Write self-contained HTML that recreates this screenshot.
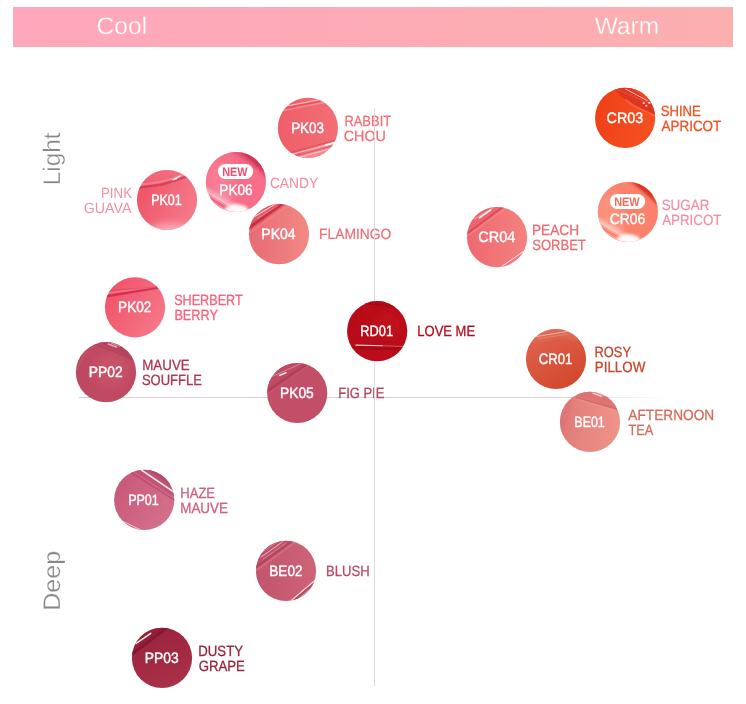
<!DOCTYPE html>
<html lang="en"><head><meta charset="utf-8"><title>Color chart</title>
<style>html,body{margin:0;padding:0;background:#fff}body{width:746px;height:704px;overflow:hidden}svg{display:block}text{font-family:"Liberation Sans",sans-serif;text-rendering:geometricPrecision}</style>
</head><body>
<svg width="746" height="704" viewBox="0 0 746 704">
<defs>
<linearGradient id="ban" x1="0" y1="0" x2="1" y2="0"><stop offset="0" stop-color="#FFA7BC"/><stop offset="1" stop-color="#FBAFAF"/></linearGradient>
<linearGradient id="hl" x1="0" y1="0" x2="1" y2="0"><stop offset="0" stop-color="#DCCFD4"/><stop offset="0.8" stop-color="#DCCFD4"/><stop offset="1" stop-color="#DCCFD4" stop-opacity="0"/></linearGradient>
<filter id="b1" filterUnits="userSpaceOnUse" x="0" y="0" width="746" height="704"><feGaussianBlur stdDeviation="0.6"/></filter>
<filter id="b2" filterUnits="userSpaceOnUse" x="0" y="0" width="746" height="704"><feGaussianBlur stdDeviation="1.5"/></filter>
<filter id="b3" filterUnits="userSpaceOnUse" x="0" y="0" width="746" height="704"><feGaussianBlur stdDeviation="4"/></filter>
<linearGradient id="gPK03" x1="0" y1="0.5" x2="1" y2="0.5"><stop offset="0" stop-color="#EE5E68"/><stop offset="1" stop-color="#F36F75"/></linearGradient>
<clipPath id="kPK03"><circle cx="307.9" cy="127.9" r="30.1"/></clipPath>
<linearGradient id="gPK01" x1="0" y1="0.3" x2="1" y2="0.7"><stop offset="0" stop-color="#EE5266"/><stop offset="1" stop-color="#F57C8C"/></linearGradient>
<clipPath id="kPK01"><circle cx="167" cy="200" r="30.1"/></clipPath>
<clipPath id="kPK06"><circle cx="235.9" cy="182" r="30.1"/></clipPath>
<linearGradient id="gPK04" x1="0" y1="0.5" x2="1" y2="0.5"><stop offset="0" stop-color="#E86A73"/><stop offset="1" stop-color="#F28A85"/></linearGradient>
<clipPath id="kPK04"><circle cx="279" cy="234.2" r="30.1"/></clipPath>
<linearGradient id="gPK02" x1="0" y1="0.2" x2="1" y2="0.8"><stop offset="0" stop-color="#F05068"/><stop offset="1" stop-color="#F67A8A"/></linearGradient>
<clipPath id="kPK02"><circle cx="135" cy="307.3" r="30.1"/></clipPath>
<clipPath id="kPP02"><circle cx="106" cy="372.2" r="30.1"/></clipPath>
<clipPath id="kPK05"><circle cx="297.2" cy="393" r="30.1"/></clipPath>
<clipPath id="kRD01"><circle cx="377.2" cy="331.2" r="30.1"/></clipPath>
<linearGradient id="gPP01" x1="0" y1="0.2" x2="1" y2="0.8"><stop offset="0" stop-color="#C85878"/><stop offset="1" stop-color="#D5728C"/></linearGradient>
<clipPath id="kPP01"><circle cx="144.2" cy="499.9" r="30.1"/></clipPath>
<linearGradient id="gBE02" x1="0" y1="0.5" x2="1" y2="0.5"><stop offset="0" stop-color="#C2546C"/><stop offset="1" stop-color="#CE6478"/></linearGradient>
<clipPath id="kBE02"><circle cx="286" cy="570.9" r="30.1"/></clipPath>
<linearGradient id="gPP03" x1="0.3" y1="0" x2="0.7" y2="1"><stop offset="0" stop-color="#9A223C"/><stop offset="1" stop-color="#A93149"/></linearGradient>
<clipPath id="kPP03"><circle cx="162" cy="657.9" r="30.1"/></clipPath>
<linearGradient id="gCR03" x1="0" y1="0.4" x2="1" y2="0.6"><stop offset="0" stop-color="#EF4019"/><stop offset="1" stop-color="#F65122"/></linearGradient>
<clipPath id="kCR03"><circle cx="625.1" cy="117.9" r="30.1"/></clipPath>
<clipPath id="kCR06"><circle cx="627.9" cy="212" r="30.1"/></clipPath>
<linearGradient id="gCR04" x1="0" y1="0.5" x2="1" y2="0.5"><stop offset="0" stop-color="#EE6870"/><stop offset="1" stop-color="#F4827F"/></linearGradient>
<clipPath id="kCR04"><circle cx="497.05" cy="237.15" r="30.1"/></clipPath>
<linearGradient id="gCR01" x1="0.2" y1="0" x2="0.8" y2="1"><stop offset="0" stop-color="#DF6450"/><stop offset="1" stop-color="#D2462A"/></linearGradient>
<clipPath id="kCR01"><circle cx="556" cy="359" r="30.1"/></clipPath>
<linearGradient id="gBE01" x1="0" y1="0.45" x2="1" y2="0.55"><stop offset="0" stop-color="#E07A78"/><stop offset="1" stop-color="#F0948A"/></linearGradient>
<clipPath id="kBE01"><circle cx="590" cy="421.9" r="30.1"/></clipPath>
</defs>
<rect width="746" height="704" fill="#fff"/>
<rect x="13" y="7" width="720" height="40" fill="url(#ban)"/>
<text id="cool" x="96.57" y="33.8" font-size="24" fill="#fff" textLength="50.67" lengthAdjust="spacingAndGlyphs" stroke="#FFA8BA" stroke-width="0.3">Cool</text>
<text id="warm" x="594.65" y="33.8" font-size="24" fill="#fff" textLength="64.4" lengthAdjust="spacingAndGlyphs" stroke="#FBAEB0" stroke-width="0.3">Warm</text>
<g transform="translate(60.2 0) rotate(-90)">
<text id="light" x="-185.17" y="0" font-size="24" fill="#878787" textLength="52.62" lengthAdjust="spacingAndGlyphs" stroke="#fff" stroke-width="0.3">Light</text>
<text id="deep" x="-610.86" y="0" font-size="24" fill="#878787" textLength="60.04" lengthAdjust="spacingAndGlyphs" stroke="#fff" stroke-width="0.3">Deep</text>
</g>
<rect x="79" y="397" width="591" height="1" fill="url(#hl)"/>
<text id="l0" x="344.42" y="126" font-size="14.8" fill="#F86C72" textLength="46.72" lengthAdjust="spacingAndGlyphs" stroke="#F86C72" stroke-width="0.25">RABBIT</text>
<text id="l1" x="343.76" y="141" font-size="14.8" fill="#F86C72" textLength="42.18" lengthAdjust="spacingAndGlyphs" stroke="#F86C72" stroke-width="0.25">CHOU</text>
<text id="l2" x="101.04" y="197.9" font-size="14.8" fill="#F590A2" textLength="30.95" lengthAdjust="spacingAndGlyphs">PINK</text>
<text id="l3" x="83.76" y="212.9" font-size="14.8" fill="#F590A2" textLength="47.69" lengthAdjust="spacingAndGlyphs">GUAVA</text>
<text id="l4" x="269.91" y="188" font-size="14.8" fill="#F68EA2" textLength="48.19" lengthAdjust="spacingAndGlyphs" stroke="#F68EA2" stroke-width="0.1">CANDY</text>
<text id="l5" x="319.11" y="239" font-size="14.8" fill="#EF6C73" textLength="72.09" lengthAdjust="spacingAndGlyphs" stroke="#EF6C73" stroke-width="0.2">FLAMINGO</text>
<text id="l6" x="174.16" y="305" font-size="14.8" fill="#FA607A" textLength="68.54" lengthAdjust="spacingAndGlyphs" stroke="#FA607A" stroke-width="0.3">SHERBERT</text>
<text id="l7" x="174.41" y="319.8" font-size="14.8" fill="#FA607A" textLength="43.51" lengthAdjust="spacingAndGlyphs" stroke="#FA607A" stroke-width="0.3">BERRY</text>
<text id="l8" x="142.19" y="369.9" font-size="14.8" fill="#AE3652" textLength="47.59" lengthAdjust="spacingAndGlyphs" stroke="#AE3652" stroke-width="0.3">MAUVE</text>
<text id="l9" x="141.95" y="384.9" font-size="14.8" fill="#AE3652" textLength="59.97" lengthAdjust="spacingAndGlyphs" stroke="#AE3652" stroke-width="0.3">SOUFFLE</text>
<text id="l10" x="417.36" y="335.8" font-size="14.8" fill="#B20A1C" textLength="57.73" lengthAdjust="spacingAndGlyphs" stroke="#B20A1C" stroke-width="0.3">LOVE ME</text>
<text id="l11" x="338.22" y="397.7" font-size="14.8" fill="#B6465E" textLength="46.16" lengthAdjust="spacingAndGlyphs" stroke="#B6465E" stroke-width="0.3">FIG PIE</text>
<text id="l12" x="180.24" y="497.8" font-size="14.8" fill="#D0607E" textLength="34.85" lengthAdjust="spacingAndGlyphs" stroke="#D0607E" stroke-width="0.3">HAZE</text>
<text id="l13" x="180.21" y="512.8" font-size="14.8" fill="#D0607E" textLength="47.7" lengthAdjust="spacingAndGlyphs" stroke="#D0607E" stroke-width="0.3">MAUVE</text>
<text id="l14" x="326.07" y="575.8" font-size="14.8" fill="#BA4A64" textLength="43.68" lengthAdjust="spacingAndGlyphs" stroke="#BA4A64" stroke-width="0.3">BLUSH</text>
<text id="l15" x="198.22" y="655.8" font-size="14.8" fill="#98243C" textLength="44.84" lengthAdjust="spacingAndGlyphs" stroke="#98243C" stroke-width="0.3">DUSTY</text>
<text id="l16" x="198.71" y="670.8" font-size="14.8" fill="#98243C" textLength="46.23" lengthAdjust="spacingAndGlyphs" stroke="#98243C" stroke-width="0.3">GRAPE</text>
<text id="l17" x="660.76" y="116.1" font-size="14.8" fill="#F4501F" textLength="40.04" lengthAdjust="spacingAndGlyphs" stroke="#F4501F" stroke-width="0.3">SHINE</text>
<text id="l18" x="661.5" y="130.9" font-size="14.8" fill="#F4501F" textLength="59.8" lengthAdjust="spacingAndGlyphs" stroke="#F4501F" stroke-width="0.3">APRICOT</text>
<text id="l19" x="661.65" y="210.1" font-size="14.8" fill="#F48FA2" textLength="47.79" lengthAdjust="spacingAndGlyphs" stroke="#F48FA2" stroke-width="0.2">SUGAR</text>
<text id="l20" x="662.15" y="224.7" font-size="14.8" fill="#F48FA2" textLength="59.34" lengthAdjust="spacingAndGlyphs" stroke="#F48FA2" stroke-width="0.2">APRICOT</text>
<text id="l21" x="531.98" y="235" font-size="14.8" fill="#F06A72" textLength="47.06" lengthAdjust="spacingAndGlyphs" stroke="#F06A72" stroke-width="0.3">PEACH</text>
<text id="l22" x="532.26" y="249.6" font-size="14.8" fill="#F06A72" textLength="53.55" lengthAdjust="spacingAndGlyphs" stroke="#F06A72" stroke-width="0.3">SORBET</text>
<text id="l23" x="594.59" y="356.6" font-size="14.8" fill="#C8452F" textLength="36.43" lengthAdjust="spacingAndGlyphs" stroke="#C8452F" stroke-width="0.3">ROSY</text>
<text id="l24" x="594.72" y="371.8" font-size="14.8" fill="#C8452F" textLength="50.69" lengthAdjust="spacingAndGlyphs" stroke="#C8452F" stroke-width="0.3">PILLOW</text>
<text id="l25" x="628.35" y="419.8" font-size="14.8" fill="#D66C5E" textLength="85.9" lengthAdjust="spacingAndGlyphs" stroke="#D66C5E" stroke-width="0.3">AFTERNOON</text>
<text id="l26" x="628.41" y="434.9" font-size="14.8" fill="#D66C5E" textLength="24.83" lengthAdjust="spacingAndGlyphs" stroke="#D66C5E" stroke-width="0.3">TEA</text>
<rect x="374" y="108" width="1" height="578" fill="#E0D9DD"/>
<g clip-path="url(#kPK03)">
<circle cx="307.9" cy="127.9" r="31.1" fill="url(#gPK03)"/>
<path d="M282.87 160.78L345.07 137.18L351.5 171.5L280.72 171.5Z" fill="#F8A4AA" opacity="0.55" filter="url(#b1)"/>
<path d="M276.43 108.02L325.76 98.36" stroke="#fff" stroke-width="1.0" stroke-linecap="round" fill="none" opacity="0.65" filter="url(#b1)"/>
<path d="M276.43 109.95L330.05 99.44" stroke="#D43C4C" stroke-width="1.0" stroke-linecap="round" fill="none" opacity="0.5" filter="url(#b1)"/>
<path d="M276.43 111.88L334.34 100.51" stroke="#fff" stroke-width="1.3" stroke-linecap="round" fill="none" opacity="0.25" filter="url(#b1)"/>
<path d="M285.01 153.91L345.07 137.61" stroke="#D43C4C" stroke-width="1.1" stroke-linecap="round" fill="none" opacity="0.55" filter="url(#b1)"/>
<path d="M287.16 155.63L345.07 139.87" stroke="#fff" stroke-width="1.5" stroke-linecap="round" fill="none" opacity="0.5" filter="url(#b1)"/>
<path d="M325.76 145.12L336.49 142.23" stroke="#fff" stroke-width="1.8" stroke-linecap="round" fill="none" opacity="0.9" filter="url(#b1)"/>
<path d="M289.3 157.56L345.07 142.44" stroke="#D43C4C" stroke-width="1.2" stroke-linecap="round" fill="none" opacity="0.6" filter="url(#b1)"/>
<path d="M291.45 159.38L345.07 144.8" stroke="#fff" stroke-width="1.1" stroke-linecap="round" fill="none" opacity="0.45" filter="url(#b1)"/>
</g>
<text id="cPK03" x="291.16" y="132.9" font-size="15.0" fill="#fff" textLength="32.8" lengthAdjust="spacingAndGlyphs" stroke="#fff" stroke-width="0.4">PK03</text>
<g clip-path="url(#kPK01)">
<circle cx="167" cy="200" r="31.1" fill="url(#gPK01)"/>
<ellipse cx="169.97" cy="232.92" rx="22" ry="9" fill="#FCC0C8" opacity="0.8" filter="url(#b3)"/>
<path d="M132.43 181.45L158.17 180.38L177.47 175.01L186.05 169.65L158.17 164.29L132.43 170.72Z" fill="#F47C8C" opacity="0.4" filter="url(#b2)"/>
<path d="M134.58 188.1L160.85 184.77L175.12 180.7L194.63 173.73" stroke="#D03050" stroke-width="2.4" stroke-linecap="round" stroke-linejoin="round" fill="none" opacity="0.65" filter="url(#b1)"/>
<path d="M135.65 185.31L159.24 182.2L173.18 178.45L190.34 172.01" stroke="#F9A8B2" stroke-width="2.2" stroke-linecap="round" stroke-linejoin="round" fill="none" opacity="0.45" filter="url(#b1)"/>
<path d="M172.76 179.95L180.16 176.09" stroke="#fff" stroke-width="1.2" stroke-linecap="round" fill="none" opacity="0.9" filter="url(#b1)"/>
<ellipse cx="175.54" cy="178.87" rx="1.8" ry="1.0" fill="#fff" opacity="0.8" filter="url(#b1)"/>
<path d="M183.91 173.94L201.07 184.66L201.07 166.43Z" fill="#E03A54" opacity="0.5" filter="url(#b1)"/>
</g>
<text id="cPK01" x="151.16" y="204.9" font-size="15.0" fill="#fff" textLength="30.62" lengthAdjust="spacingAndGlyphs" stroke="#fff" stroke-width="0.4">PK01</text>
<g clip-path="url(#kPK06)">
<circle cx="235.9" cy="182" r="31.1" fill="#F86E88"/>
<ellipse cx="220.66" cy="177.17" rx="14" ry="16" fill="#FC8CA0" opacity="0.5" filter="url(#b3)"/>
<ellipse cx="219.59" cy="198.62" rx="12" ry="9" fill="#FDB4C2" opacity="0.45" filter="url(#b3)"/>
<path d="M226.03 149.29L245.33 161.09L258.2 170.74L268.92 181.46L277.5 155.72L249.62 140.71Z" fill="#E25676" opacity="0.95" filter="url(#b2)"/>
<path d="M242.11 150.36L272.14 176.1" stroke="#C62A4A" stroke-width="4.2" stroke-linecap="round" fill="none" opacity="0.85" filter="url(#b2)"/>
<path d="M200.29 186.29L243.18 212.02" stroke="#FCB6C2" stroke-width="4.5" stroke-linecap="round" fill="none" opacity="0.75" filter="url(#b2)"/>
<path d="M200.29 191.11L241.58 215.78L228.17 226.5L196 213.63Z" fill="#EC5C7A" opacity="0.8" filter="url(#b1)"/>
<ellipse cx="236.21" cy="210.2" rx="12" ry="6" fill="#fff" opacity="0.95" filter="url(#b2)"/>
<path d="M202.43 189.18L242.11 212.99" stroke="#fff" stroke-width="1.2" stroke-linecap="round" fill="none" opacity="0.35" filter="url(#b1)"/>
<path d="M205.65 197.55L231.39 213.63" stroke="#FBB4C0" stroke-width="1.4" stroke-linecap="round" fill="none" opacity="0.7" filter="url(#b1)"/>
</g>
<rect x="217.9" y="164" width="35.3" height="15" rx="7.5" fill="#fff"/>
<text id="nPK06" x="222.15" y="175.9" font-size="12.2" fill="#F54C6E" textLength="25.35" lengthAdjust="spacingAndGlyphs" font-weight="bold">NEW</text>
<text id="cPK06" x="219.32" y="194.9" font-size="15.0" fill="#fff" textLength="33.27" lengthAdjust="spacingAndGlyphs" stroke="#fff" stroke-width="0.4">PK06</text>
<g clip-path="url(#kPK04)">
<circle cx="279" cy="234.2" r="31.1" fill="url(#gPK04)"/>
<path d="M245.43 232.39L286.18 201.29L245.43 201.29Z" fill="#E2566A" opacity="0.6" filter="url(#b1)"/>
<path d="M247.58 234L290.47 203.43" stroke="#F59696" stroke-width="2.2" stroke-linecap="round" fill="none" opacity="0.5" filter="url(#b1)"/>
<path d="M245.43 230.46L287.26 200.43" stroke="#CC2E44" stroke-width="5.5" stroke-linecap="round" fill="none" opacity="0.4" filter="url(#b2)"/>
<path d="M245.43 230.46L287.26 200.43" stroke="#C8283C" stroke-width="2.6" stroke-linecap="round" fill="none" opacity="0.8" filter="url(#b1)"/>
<path d="M255.09 216.3L275.46 204.08" stroke="#fff" stroke-width="1.0" stroke-linecap="round" fill="none" opacity="0.8" filter="url(#b1)"/>
<path d="M257.23 218.45L277.61 205.79" stroke="#fff" stroke-width="0.8" stroke-linecap="round" fill="none" opacity="0.4" filter="url(#b1)"/>
</g>
<text id="cPK04" x="261.32" y="238.8" font-size="15.0" fill="#fff" textLength="34.38" lengthAdjust="spacingAndGlyphs" stroke="#fff" stroke-width="0.4">PK04</text>
<g clip-path="url(#kPK02)">
<circle cx="135" cy="307.3" r="31.1" fill="url(#gPK02)"/>
<path d="M101.43 297.13L165.78 286.3" stroke="#CC2848" stroke-width="2.4" stroke-linecap="round" fill="none" opacity="0.8" filter="url(#b1)"/>
<path d="M101.43 294.13L165.78 285.01" stroke="#F68494" stroke-width="2.0" stroke-linecap="round" fill="none" opacity="0.55" filter="url(#b1)"/>
<path d="M105.72 291.02L165.78 286.09" stroke="#D8385A" stroke-width="1.0" stroke-linecap="round" fill="none" opacity="0.5" filter="url(#b1)"/>
</g>
<text id="cPK02" x="118.1" y="311.8" font-size="15.0" fill="#fff" textLength="33.33" lengthAdjust="spacingAndGlyphs" stroke="#fff" stroke-width="0.4">PK02</text>
<g clip-path="url(#kPP02)">
<circle cx="106" cy="372.2" r="31.1" fill="#C04A62"/>
<ellipse cx="111.04" cy="370.39" rx="18" ry="18" fill="#CC586C" opacity="0.6" filter="url(#b3)"/>
<ellipse cx="78.87" cy="375.75" rx="8" ry="16" fill="#B84660" opacity="0.5" filter="url(#b3)"/>
<path d="M91.74 339.29L138.92 361.81L141.07 335Z" fill="#B04260" opacity="0.75" filter="url(#b1)"/>
<path d="M92.81 343.04L138.92 361.81" stroke="#A03852" stroke-width="1.2" stroke-linecap="round" fill="none" opacity="0.5" filter="url(#b1)"/>
<path d="M108.36 344.12L116.4 347.01" stroke="#fff" stroke-width="1.6" stroke-linecap="round" fill="none" opacity="0.55" filter="url(#b1)"/>
<path d="M111.04 343.04L119.62 346.26" stroke="#fff" stroke-width="1.0" stroke-linecap="round" fill="none" opacity="0.45" filter="url(#b1)"/>
<path d="M77.26 369.32L86.38 351.09" stroke="#D4687C" stroke-width="1.2" stroke-linecap="round" fill="none" opacity="0.4" filter="url(#b1)"/>
</g>
<text id="cPP02" x="88.82" y="376.8" font-size="15.0" fill="#fff" textLength="33.83" lengthAdjust="spacingAndGlyphs" stroke="#fff" stroke-width="0.4">PP02</text>
<g clip-path="url(#kPK05)">
<circle cx="297.2" cy="393" r="31.1" fill="#C24E67"/>
<path d="M263.43 393.61L308.47 361.43L263.43 359.29Z" fill="#BC4862" opacity="0.6" filter="url(#b1)"/>
<path d="M265.58 392.53L308.47 363.04" stroke="#A83850" stroke-width="2.6" stroke-linecap="round" fill="none" opacity="0.65" filter="url(#b1)"/>
<path d="M267.72 393.82L310.62 364.22" stroke="#D06478" stroke-width="1.6" stroke-linecap="round" fill="none" opacity="0.4" filter="url(#b1)"/>
<path d="M270.94 376.98L299.9 364.12" stroke="#fff" stroke-width="0.8" stroke-linecap="round" fill="none" opacity="0.45" filter="url(#b1)"/>
<path d="M279.52 375.38L285.95 372.69" stroke="#fff" stroke-width="1.5" stroke-linecap="round" fill="none" opacity="0.9" filter="url(#b1)"/>
</g>
<text id="cPK05" x="279.96" y="397.9" font-size="15.0" fill="#fff" textLength="33.83" lengthAdjust="spacingAndGlyphs" stroke="#fff" stroke-width="0.4">PK05</text>
<g clip-path="url(#kRD01)">
<circle cx="377.2" cy="331.2" r="31.1" fill="#BA0C1A"/>
<ellipse cx="388.47" cy="325.17" rx="14" ry="14" fill="#C5121E" opacity="0.6" filter="url(#b3)"/>
<ellipse cx="353.09" cy="325.17" rx="8" ry="16" fill="#B20C18" opacity="0.5" filter="url(#b3)"/>
<path d="M347.72 299.43L412.07 299.43L412.07 309.09L363.81 303.72Z" fill="#A80E1A" opacity="0.7" filter="url(#b1)"/>
<path d="M362.74 303.29L409.92 308.23" stroke="#8E0A14" stroke-width="1.0" stroke-linecap="round" fill="none" opacity="0.6" filter="url(#b1)"/>
<path d="M353.09 347.69L412.07 349.19" stroke="#980A14" stroke-width="2.8" stroke-linecap="round" fill="none" opacity="0.7" filter="url(#b1)"/>
<path d="M355.87 345.12L382.04 345.76" stroke="#fff" stroke-width="1.2" stroke-linecap="round" fill="none" opacity="0.8" filter="url(#b1)"/>
<path d="M382.04 345.76L403.49 346.4" stroke="#fff" stroke-width="0.8" stroke-linecap="round" fill="none" opacity="0.4" filter="url(#b1)"/>
</g>
<text id="cRD01" x="360.32" y="335.9" font-size="15.0" fill="#fff" textLength="32.77" lengthAdjust="spacingAndGlyphs" stroke="#fff" stroke-width="0.4">RD01</text>
<g clip-path="url(#kPP01)">
<circle cx="144.2" cy="499.9" r="31.1" fill="url(#gPP01)"/>
<path d="M128.66 467.36L179.07 500.61L181.21 462Z" fill="#BC4E70" opacity="0.7" filter="url(#b1)"/>
<path d="M129.74 471.65L176.92 501.68" stroke="#B04266" stroke-width="1.6" stroke-linecap="round" fill="none" opacity="0.6" filter="url(#b1)"/>
<path d="M141.53 470.04L176.92 494.17" stroke="#fff" stroke-width="1.5" stroke-linecap="round" fill="none" opacity="0.9" filter="url(#b1)"/>
<path d="M145.82 468.43L179.07 491.49L181.21 462Z" fill="#B04868" opacity="0.7" filter="url(#b1)"/>
<path d="M123.3 521.52L140.46 529.77" stroke="#fff" stroke-width="0.9" stroke-linecap="round" fill="none" opacity="0.7" filter="url(#b1)"/>
</g>
<text id="cPP01" x="128.16" y="504.9" font-size="15.0" fill="#fff" textLength="30.62" lengthAdjust="spacingAndGlyphs" stroke="#fff" stroke-width="0.4">PP01</text>
<g clip-path="url(#kBE02)">
<circle cx="286" cy="570.9" r="31.1" fill="url(#gBE02)"/>
<path d="M252.43 569.46L295.33 537.29L252.43 537.29Z" fill="#BE5068" opacity="0.6" filter="url(#b1)"/>
<path d="M256.72 570L296.4 541.04" stroke="#DC8090" stroke-width="2.2" stroke-linecap="round" fill="none" opacity="0.45" filter="url(#b1)"/>
<path d="M254.58 568.39L294.26 539.65" stroke="#A84058" stroke-width="2.4" stroke-linecap="round" fill="none" opacity="0.7" filter="url(#b1)"/>
<path d="M261.01 557.13L282.46 541.79" stroke="#fff" stroke-width="1.0" stroke-linecap="round" fill="none" opacity="0.6" filter="url(#b1)"/>
<path d="M263.16 559.27L285.68 543.19" stroke="#fff" stroke-width="0.8" stroke-linecap="round" fill="none" opacity="0.35" filter="url(#b1)"/>
<path d="M258.87 554.45L279.24 540.51" stroke="#fff" stroke-width="0.8" stroke-linecap="round" fill="none" opacity="0.3" filter="url(#b1)"/>
<path d="M288.9 603.78L321.07 575.9L321.07 608.07Z" fill="#B84C64" opacity="0.7" filter="url(#b1)"/>
<path d="M290.5 601.1L318.92 576.97" stroke="#fff" stroke-width="1.2" stroke-linecap="round" fill="none" opacity="0.8" filter="url(#b1)"/>
<path d="M294.79 602.17L319.99 580.72" stroke="#fff" stroke-width="1.0" stroke-linecap="round" fill="none" opacity="0.6" filter="url(#b1)"/>
<path d="M292.65 601.63L319.46 578.9" stroke="#A03850" stroke-width="1.0" stroke-linecap="round" fill="none" opacity="0.5" filter="url(#b1)"/>
</g>
<text id="cBE02" x="269.32" y="575.9" font-size="15.0" fill="#fff" textLength="33.23" lengthAdjust="spacingAndGlyphs" stroke="#fff" stroke-width="0.4">BE02</text>
<g clip-path="url(#kPP03)">
<circle cx="162" cy="657.9" r="31.1" fill="url(#gPP03)"/>
<path d="M128.43 657.53L171.33 624.29L128.43 624.29Z" fill="#921E36" opacity="0.6" filter="url(#b1)"/>
<path d="M129.51 655.92L170.26 625.36" stroke="#7C1830" stroke-width="2.6" stroke-linecap="round" fill="none" opacity="0.8" filter="url(#b1)"/>
<path d="M136.16 643.38L150.74 633.3" stroke="#fff" stroke-width="1.6" stroke-linecap="round" fill="none" opacity="0.9" filter="url(#b1)"/>
</g>
<text id="cPP03" x="144.82" y="662.9" font-size="15.0" fill="#fff" textLength="33.83" lengthAdjust="spacingAndGlyphs" stroke="#fff" stroke-width="0.4">PP03</text>
<g clip-path="url(#kCR03)">
<circle cx="625.1" cy="117.9" r="31.1" fill="url(#gCR03)"/>
<path d="M 610.74 85.36 Q 623.61 101.45 640.76 108.74 T 661.14 119.46 L 661.14 83.22 Z" fill="#DC3420" opacity="0.9" filter="url(#b1)"/>
<path d="M 625.75 99.84 Q 633.26 106.27 642.91 110.03 T 660.07 119.14" fill="none" stroke="#F87850" stroke-width="1.6" stroke-linecap="round" opacity="0.6" filter="url(#b1)"/>
<path d="M616.1 89.12L649.34 103.06" stroke="#F0603C" stroke-width="1.6" stroke-linecap="round" fill="none" opacity="0.5" filter="url(#b1)"/>
<path d="M627.9 86.43L649.34 101.45L660.07 110.03L660.07 84.29Z" fill="#F04E26" opacity="0.8" filter="url(#b1)"/>
<path d="M625.75 89.12L647.2 100.59" stroke="#fff" stroke-width="1.0" stroke-linecap="round" fill="none" opacity="0.7" filter="url(#b1)"/>
<ellipse cx="643.77" cy="103.06" rx="1.3" ry="0.9" fill="#fff" opacity="0.8" filter="url(#b1)"/>
<ellipse cx="646.34" cy="105.74" rx="1.1" ry="0.9" fill="#fff" opacity="0.7" filter="url(#b1)"/>
<ellipse cx="649.34" cy="102.73" rx="1.5" ry="0.9" fill="#fff" opacity="0.75" filter="url(#b1)"/>
</g>
<text id="cCR03" x="606.56" y="123.2" font-size="15.0" fill="#fff" textLength="36.62" lengthAdjust="spacingAndGlyphs" stroke="#fff" stroke-width="0.4">CR03</text>
<g clip-path="url(#kCR06)">
<circle cx="627.9" cy="212" r="31.1" fill="#FA826C"/>
<ellipse cx="609.45" cy="207.17" rx="14" ry="16" fill="#FC9E8A" opacity="0.55" filter="url(#b3)"/>
<ellipse cx="611.59" cy="228.62" rx="12" ry="9" fill="#FDBCAE" opacity="0.5" filter="url(#b3)"/>
<path d="M623.39 178.22L641.62 190.01L652.34 199.66L661.99 211.46L669.5 185.72L641.62 170.71Z" fill="#EE6048" opacity="0.95" filter="url(#b2)"/>
<path d="M635.18 180.9L663.6 205.56" stroke="#D42A1C" stroke-width="5.0" stroke-linecap="round" fill="none" opacity="0.9" filter="url(#b2)"/>
<path d="M652.88 194.84L659.64 206.1" stroke="#FBB0A0" stroke-width="1.8" stroke-linecap="round" fill="none" opacity="0.65" filter="url(#b1)"/>
<path d="M592.29 216.29L635.18 242.02" stroke="#FDC8BE" stroke-width="4.5" stroke-linecap="round" fill="none" opacity="0.75" filter="url(#b2)"/>
<path d="M592.29 221.11L633.58 245.78L620.17 256.5L588 243.63Z" fill="#F67E68" opacity="0.75" filter="url(#b1)"/>
<ellipse cx="628.21" cy="240.2" rx="12" ry="6" fill="#fff" opacity="0.95" filter="url(#b2)"/>
<path d="M594.43 219.18L634.11 242.99" stroke="#fff" stroke-width="1.2" stroke-linecap="round" fill="none" opacity="0.35" filter="url(#b1)"/>
<path d="M597.65 227.55L623.39 243.63" stroke="#FCC4BA" stroke-width="1.4" stroke-linecap="round" fill="none" opacity="0.7" filter="url(#b1)"/>
</g>
<rect x="609.9" y="194" width="35.3" height="15" rx="7.5" fill="#fff"/>
<text id="nCR06" x="614.16" y="206" font-size="12.2" fill="#F56A58" textLength="25.42" lengthAdjust="spacingAndGlyphs" font-weight="bold">NEW</text>
<text id="cCR06" x="609.76" y="224.3" font-size="15.0" fill="#fff" textLength="35.62" lengthAdjust="spacingAndGlyphs" stroke="#fff" stroke-width="0.4">CR06</text>
<g clip-path="url(#kCR04)">
<circle cx="497.05" cy="237.15" r="31.1" fill="url(#gCR04)"/>
<path d="M463.43 236.46L506.33 204.29L463.43 204.29Z" fill="#EA6070" opacity="0.6" filter="url(#b1)"/>
<path d="M464.51 235.39L505.26 205.36" stroke="#D84058" stroke-width="2.2" stroke-linecap="round" fill="none" opacity="0.7" filter="url(#b1)"/>
<path d="M466.65 236.46L507.4 206.65" stroke="#F89898" stroke-width="1.6" stroke-linecap="round" fill="none" opacity="0.45" filter="url(#b1)"/>
<path d="M479.31 217.91L490.46 210.08" stroke="#fff" stroke-width="1.6" stroke-linecap="round" fill="none" opacity="0.9" filter="url(#b1)"/>
<path d="M474.16 219.3L493.46 207.51" stroke="#fff" stroke-width="0.8" stroke-linecap="round" fill="none" opacity="0.5" filter="url(#b1)"/>
<path d="M500.97 267.02L525.63 249.87" stroke="#fff" stroke-width="1.0" stroke-linecap="round" fill="none" opacity="0.8" filter="url(#b1)"/>
<path d="M505.26 267.77L527.78 252.76" stroke="#fff" stroke-width="0.9" stroke-linecap="round" fill="none" opacity="0.6" filter="url(#b1)"/>
</g>
<text id="cCR04" x="478.25" y="242" font-size="15.0" fill="#fff" textLength="37.07" lengthAdjust="spacingAndGlyphs" stroke="#fff" stroke-width="0.4">CR04</text>
<g clip-path="url(#kCR01)">
<circle cx="556" cy="359" r="31.1" fill="url(#gCR01)"/>
<path d="M526.72 343.45L558.9 338.09L591.07 343.45L591.07 326.29L526.72 326.29Z" fill="#E27462" opacity="0.5" filter="url(#b2)"/>
<path d="M536.38 336.48L571.76 330.79" stroke="#fff" stroke-width="0.9" stroke-linecap="round" fill="none" opacity="0.55" filter="url(#b1)"/>
<path d="M538.52 338.62L576.05 332.72" stroke="#F0A090" stroke-width="0.9" stroke-linecap="round" fill="none" opacity="0.5" filter="url(#b1)"/>
<path d="M566.4 328.43L584.63 342.38L591.07 328.43Z" fill="#C84030" opacity="0.6" filter="url(#b1)"/>
</g>
<text id="cCR01" x="538.77" y="363.8" font-size="15.0" fill="#fff" textLength="33.62" lengthAdjust="spacingAndGlyphs" stroke="#fff" stroke-width="0.4">CR01</text>
<g clip-path="url(#kBE01)">
<circle cx="590" cy="421.9" r="31.1" fill="url(#gBE01)"/>
<path d="M556.43 396.87L573.06 396.87L562.87 435.47L556.43 437.62Z" fill="#DA6E72" opacity="0.45" filter="url(#b2)"/>
<path d="M576.81 395.8L622.92 410.81L625.07 388.29L576.81 388.29Z" fill="#DA6A70" opacity="0.7" filter="url(#b1)"/>
<path d="M576.81 397.4L622.92 410.81" stroke="#C4545E" stroke-width="1.6" stroke-linecap="round" fill="none" opacity="0.6" filter="url(#b1)"/>
<path d="M577.88 399.23L622.92 412.74" stroke="#F09A94" stroke-width="1.6" stroke-linecap="round" fill="none" opacity="0.4" filter="url(#b1)"/>
<path d="M592.9 393.12L601.47 396.33" stroke="#fff" stroke-width="1.4" stroke-linecap="round" fill="none" opacity="0.7" filter="url(#b1)"/>
<path d="M595.58 392.36L604.16 395.58" stroke="#fff" stroke-width="1.0" stroke-linecap="round" fill="none" opacity="0.5" filter="url(#b1)"/>
</g>
<text id="cBE01" x="574.37" y="426.9" font-size="15.0" fill="#fff" textLength="30.39" lengthAdjust="spacingAndGlyphs" stroke="#fff" stroke-width="0.4">BE01</text>
</svg>
</body></html>
